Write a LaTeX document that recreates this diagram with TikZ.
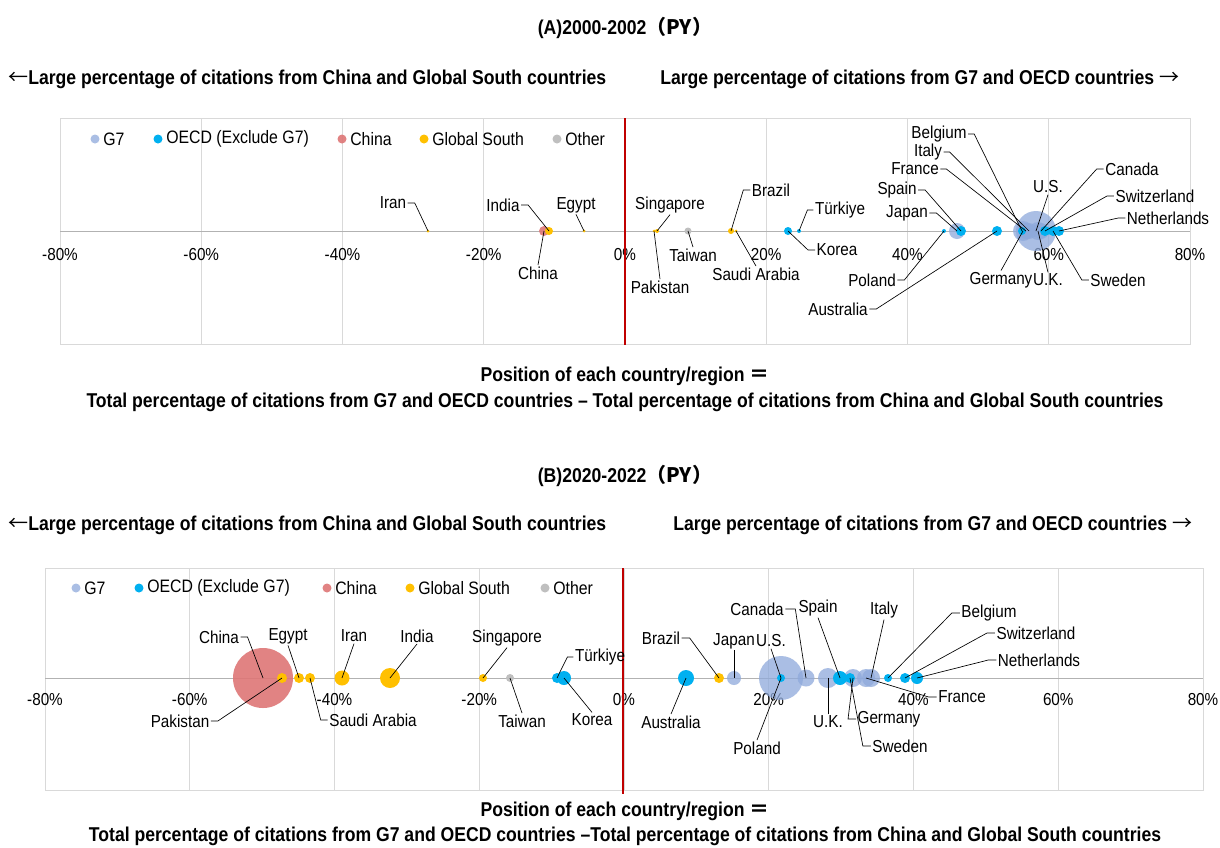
\documentclass[tikz,border=0pt]{standalone}
\usepackage{fontspec}
\setmainfont{Liberation Sans}[FakeStretch=0.88]
\newfontfamily\cjk{Noto Sans CJK JP}
\usetikzlibrary{positioning}

\definecolor{gseven}{RGB}{142,169,219}
\definecolor{oecd}{RGB}{0,176,240}
\definecolor{china}{RGB}{222,118,118}
\definecolor{gsouth}{RGB}{255,192,0}
\definecolor{other}{RGB}{191,191,191}
\definecolor{gridc}{RGB}{217,217,217}
\definecolor{redline}{RGB}{192,0,0}

\tikzset{
  lab/.style={font=\fontsize{13}{15}\selectfont, inner sep=1pt},
  lgd/.style={font=\fontsize{13.5}{16}\selectfont, inner sep=0pt, anchor=west},
  hdr/.style={font=\bfseries\fontsize{15}{17}\selectfont, inner sep=0pt},
  leader/.style={draw=black, line width=0.5pt},
  bub/.style={circle, inner sep=0pt, minimum size=#1*1.5pt},
  gs/.style={bub=#1, fill=gseven, fill opacity=0.75},
  oe/.style={bub=#1, fill=oecd},
  cn/.style={bub=#1, fill=china, fill opacity=0.9},
  so/.style={bub=#1, fill=gsouth},
  ot/.style={bub=#1, fill=other},
}

\begin{document}
\begin{tikzpicture}[x=0.75pt,y=-0.75pt]
\fill[white] (0,0) rectangle (1220,847);
\useasboundingbox (0,0) rectangle (1220,847);

% ---------------- (A) 2000-2002 ----------------
\node[hdr] (aTitle) at (625,28) {(A)2000-2002{\cjk （PY）}};
\node[hdr,anchor=west] (aLeft) at (8,79) {{\cjk\mdseries ←}Large percentage of citations from China and Global South countries};
\node[hdr,anchor=west] (aRight) at (660,79) {Large percentage of citations from G7 and OECD countries {\cjk\mdseries →}};

\draw[gridc] (60,118) rectangle (1190,344);
\foreach \i [count=\k from 0] in {-80,-60,-40,-20,0,20,40,60,80}{
  \draw[gridc] (60+\k*141.25,118) -- (60+\k*141.25,344);
  \node[lab] (aTick\k) at (60+\k*141.25,255) {\i\%};
}
\draw[black!30] (60,231) -- (1190,231);
\draw[redline,line width=1.5pt] (625,118) -- (625,345);

% legend
\node[gs=4.5] (aLgG) at (95,139) {};
\node[lgd] (aLgGt) at (103,139) {G7};
\node[oe=4.5] (aLgO) at (158,139) {};
\node[lgd] (aLgOt) at (166,139) {OECD (Exclude G7)};
\node[cn=4.5] (aLgC) at (342,139) {};
\node[lgd] (aLgCt) at (350,139) {China};
\node[so=4.5] (aLgS) at (424,139) {};
\node[lgd] (aLgSt) at (432,139) {Global South};
\node[ot=4.5] (aLgT) at (557,139) {};
\node[lgd] (aLgTt) at (565,139) {Other};

% bubbles
\node[gs=20] (aUS) at (1036,231) {};
\node[gs=10] (aGermany) at (1023,231) {};
\node[gs=8] (aFrance) at (1026,231) {};
\node[gs=8] (aItaly) at (1029,231) {};
\node[gs=9] (aUK) at (1038,231) {};
\node[gs=8] (aCanada) at (1041,231) {};
\node[gs=8] (aJapan) at (957,231) {};
\node[cn=5] (aChina) at (544,231) {};
\node[so=4] (aIndia) at (549,231) {};
\node[so=1.5] (aIran) at (428,231) {};
\node[so=1.5] (aEgypt) at (584,231) {};
\node[so=1.5] (aPakistan) at (654,231) {};
\node[so=2] (aSingapore) at (657,231) {};
\node[ot=3.5] (aTaiwan) at (688,231) {};
\node[so=3] (aBrazil) at (731,231) {};
\node[so=1.5] (aSaudi) at (736,231) {};
\node[oe=4] (aKorea) at (788,231) {};
\node[oe=2] (aTurkiye) at (799,231) {};
\node[oe=2] (aPoland) at (944,231) {};
\node[oe=5] (aSpain) at (961,231) {};
\node[oe=5] (aAustralia) at (997,231) {};
\node[oe=4] (aBelgium) at (1022,231) {};
\node[oe=5] (aSwitzerland) at (1045,231) {};
\node[oe=5] (aSweden) at (1053,231) {};
\node[oe=5] (aNetherlands) at (1059,231) {};

% labels
\node[lab] (lIran) at (393,203) {Iran};
\node[lab] (lIndia) at (503,205) {India};
\node[lab] (lChina) at (538,273) {China};
\node[lab] (lEgypt) at (576,205) {Egypt};
\node[lab] (lSingapore) at (670,205) {Singapore};
\node[lab] (lPakistan) at (660,287) {Pakistan};
\node[lab] (lTaiwan) at (693,255) {Taiwan};
\node[lab] (lBrazil) at (771,190) {Brazil};
\node[lab] (lSaudi) at (756,274) {Saudi Arabia};
\node[lab] (lKorea) at (837,250) {Korea};
\node[lab] (lTurkiye) at (840,210) {Türkiye};
\node[lab] (lPoland) at (872,280) {Poland};
\node[lab] (lAustralia) at (838,309) {Australia};
\node[lab] (lJapan) at (907,213) {Japan};
\node[lab] (lSpain) at (897,190) {Spain};
\node[lab] (lFrance) at (915,169) {France};
\node[lab] (lItaly) at (928,152) {Italy};
\node[lab] (lBelgium) at (939,134) {Belgium};
\node[lab] (lUS) at (1048,187) {U.S.};
\node[lab] (lCanada) at (1132,169) {Canada};
\node[lab] (lSwitzerland) at (1155,196) {Switzerland};
\node[lab] (lNetherlands) at (1168,218) {Netherlands};
\node[lab] (lSweden) at (1118,280) {Sweden};
\node[lab] (lGermany) at (1001,280) {Germany};
\node[lab] (lUK) at (1048,280) {U.K.};

% leader lines
\draw[leader] (lIran.east) -- ++(7,0) -- (aIran.center);
\draw[leader] (lIndia.east) -- ++(7,0) -- (aIndia.center);
\draw[leader] (lChina.north) -- (aChina.center);
\draw[leader] (lEgypt.south) -- (aEgypt.center);
\draw[leader] (lSingapore.south) -- (aSingapore.center);
\draw[leader] (lPakistan.north) -- (aPakistan.center);
\draw[leader] (lTaiwan.north) -- (aTaiwan.center);
\draw[leader] (lBrazil.west) -- ++(-7,0) -- (aBrazil.center);
\draw[leader] (lSaudi.north) -- (aSaudi.center);
\draw[leader] (lKorea.west) -- ++(-7,0) -- (aKorea.center);
\draw[leader] (lTurkiye.west) -- ++(-6,0) -- (aTurkiye.center);
\draw[leader] (lPoland.east) -- ++(7,0) -- (aPoland.center);
\draw[leader] (lAustralia.east) -- ++(7,0) -- (aAustralia.center);
\draw[leader] (lJapan.east) -- ++(7,0) -- (aJapan.center);
\draw[leader] (lSpain.east) -- ++(7,0) -- (aSpain.center);
\draw[leader] (lFrance.east) -- ++(6,0) -- (aFrance.center);
\draw[leader] (lItaly.east) -- ++(6,0) -- (aItaly.center);
\draw[leader] (lBelgium.east) -- ++(6,0) -- (aBelgium.center);
\draw[leader] (lUS.south) -- (aUS.center);
\draw[leader] (lCanada.west) -- ++(-7,0) -- (aCanada.center);
\draw[leader] (lSwitzerland.west) -- ++(-7,0) -- (aSwitzerland.center);
\draw[leader] (lNetherlands.west) -- ++(-7,0) -- (aNetherlands.center);
\draw[leader] (lSweden.west) -- ++(-7,0) -- (aSweden.center);
\draw[leader] (lGermany.north) -- (aGermany.center);
\draw[leader] (lUK.north) -- (aUK.center);

\node[hdr] (aAxis1) at (625,376) {Position of each country/region {\cjk ＝}};
\node[hdr] (aAxis2) at (625,402) {Total percentage of citations from G7 and OECD countries – Total percentage of citations from China and Global South countries};

% ---------------- (B) 2020-2022 ----------------
\node[hdr] (bTitle) at (625,476) {(B)2020-2022{\cjk （PY）}};
\node[hdr,anchor=west] (bLeft) at (8,525) {{\cjk\mdseries ←}Large percentage of citations from China and Global South countries};
\node[hdr,anchor=west] (bRight) at (673,525) {Large percentage of citations from G7 and OECD countries {\cjk\mdseries →}};

\draw[gridc] (45,568) rectangle (1203,790);
\foreach \i [count=\k from 0] in {-80,-60,-40,-20,0,20,40,60,80}{
  \draw[gridc] (45+\k*144.75,568) -- (45+\k*144.75,790);
  \node[lab] (bTick\k) at (45+\k*144.75,700) {\i\%};
}
\draw[black!30] (45,678) -- (1203,678);
\draw[redline,line width=1.5pt] (623,568) -- (623,794);

% legend
\node[gs=4.5] (bLgG) at (76,588) {};
\node[lgd] (bLgGt) at (84,588) {G7};
\node[oe=4.5] (bLgO) at (139,588) {};
\node[lgd] (bLgOt) at (147,588) {OECD (Exclude G7)};
\node[cn=4.5] (bLgC) at (327,588) {};
\node[lgd] (bLgCt) at (335,588) {China};
\node[so=4.5] (bLgS) at (410,588) {};
\node[lgd] (bLgSt) at (418,588) {Global South};
\node[ot=4.5] (bLgT) at (545,588) {};
\node[lgd] (bLgTt) at (553,588) {Other};

% bubbles
\node[cn=30] (bChina) at (263,678) {};
\node[gs=22] (bUS) at (781,678) {};
\node[gs=7] (bJapan) at (734,678) {};
\node[gs=8.5] (bCanada) at (806,678) {};
\node[gs=10] (bUK) at (828,678) {};
\node[gs=9] (bGermany) at (853,678) {};
\node[gs=9] (bFrance) at (866,678) {};
\node[gs=9] (bItaly) at (871,678) {};
\node[so=5] (bPakistan) at (282,678) {};
\node[so=5] (bEgypt) at (299,678) {};
\node[so=5] (bSaudi) at (310,678) {};
\node[so=7.5] (bIran) at (342,678) {};
\node[so=10] (bIndia) at (390,678) {};
\node[so=4] (bSingapore) at (483,678) {};
\node[ot=4] (bTaiwan) at (510,678) {};
\node[oe=5] (bTurkiye) at (557,678) {};
\node[oe=7] (bKorea) at (564,678) {};
\node[oe=8] (bAustralia) at (686,678) {};
\node[so=5] (bBrazil) at (719,678) {};
\node[oe=4] (bPoland) at (781,678) {};
\node[oe=7] (bSpain) at (840,678) {};
\node[oe=5] (bSweden) at (850,678) {};
\node[oe=4] (bBelgium) at (888,678) {};
\node[oe=5] (bSwitzerland) at (905,678) {};
\node[oe=6] (bNetherlands) at (917,678) {};

% labels
\node[lab] (mChina) at (219,637) {China};
\node[lab] (mEgypt) at (288,636) {Egypt};
\node[lab] (mIran) at (354,636) {Iran};
\node[lab] (mIndia) at (417,636) {India};
\node[lab] (mSingapore) at (507,638) {Singapore};
\node[lab] (mTurkiye) at (600,657) {Türkiye};
\node[lab] (mKorea) at (592,720) {Korea};
\node[lab] (mTaiwan) at (522,721) {Taiwan};
\node[lab] (mSaudi) at (373,720) {Saudi Arabia};
\node[lab] (mPakistan) at (180,721) {Pakistan};
\node[lab] (mAustralia) at (671,722) {Australia};
\node[lab] (mBrazil) at (661,638) {Brazil};
\node[lab] (mJapan) at (734,641) {Japan};
\node[lab] (mUS) at (771,641) {U.S.};
\node[lab] (mCanada) at (757,609) {Canada};
\node[lab] (mSpain) at (818,608) {Spain};
\node[lab] (mItaly) at (884,610) {Italy};
\node[lab] (mBelgium) at (989,613) {Belgium};
\node[lab] (mSwitzerland) at (1036,633) {Switzerland};
\node[lab] (mNetherlands) at (1039,660) {Netherlands};
\node[lab] (mFrance) at (962,697) {France};
\node[lab] (mGermany) at (889,719) {Germany};
\node[lab] (mSweden) at (900,746) {Sweden};
\node[lab] (mUK) at (828,722) {U.K.};
\node[lab] (mPoland) at (757,748) {Poland};

% leader lines
\draw[leader] (mChina.east) -- ++(7,0) -- (bChina.center);
\draw[leader] (mEgypt.south) -- (bEgypt.center);
\draw[leader] (mIran.south) -- (bIran.center);
\draw[leader] (mIndia.south) -- (bIndia.center);
\draw[leader] (mSingapore.south) -- (bSingapore.center);
\draw[leader] (mTurkiye.west) -- ++(-6,0) -- (bTurkiye.center);
\draw[leader] (mKorea.north) -- (bKorea.center);
\draw[leader] (mTaiwan.north) -- (bTaiwan.center);
\draw[leader] (mSaudi.west) -- ++(-7,0) -- (bSaudi.center);
\draw[leader] (mPakistan.east) -- ++(7,0) -- (bPakistan.center);
\draw[leader] (mAustralia.north) -- (bAustralia.center);
\draw[leader] (mBrazil.east) -- ++(8,0) -- (bBrazil.center);
\draw[leader] (mJapan.south) -- (bJapan.center);
\draw[leader] (mUS.south) -- (bUS.center);
\draw[leader] (mCanada.east) -- ++(10,0) -- (bCanada.center);
\draw[leader] (mSpain.south) -- (bSpain.center);
\draw[leader] (mItaly.south) -- (bItaly.center);
\draw[leader] (mBelgium.west) -- ++(-8,0) -- (bBelgium.center);
\draw[leader] (mSwitzerland.west) -- ++(-8,0) -- (bSwitzerland.center);
\draw[leader] (mNetherlands.west) -- ++(-8,0) -- (bNetherlands.center);
\draw[leader] (mFrance.west) -- ++(-8,0) -- (bFrance.center);
\draw[leader] (mGermany.west) -- ++(-8,0) -- (bGermany.center);
\draw[leader] (mSweden.west) -- ++(-8,0) -- (bSweden.center);
\draw[leader] (mUK.north) -- (bUK.center);
\draw[leader] (mPoland.north) -- (bPoland.center);

\node[hdr] (bAxis1) at (625,811) {Position of each country/region {\cjk ＝}};
\node[hdr] (bAxis2) at (625,836) {Total percentage of citations from G7 and OECD countries –Total percentage of citations from China and Global South countries};
\end{tikzpicture}
\end{document}
